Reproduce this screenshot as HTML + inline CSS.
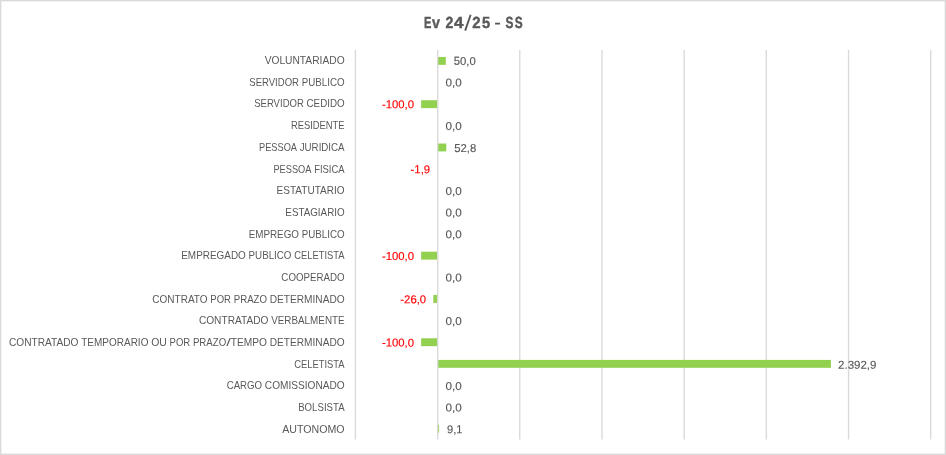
<!DOCTYPE html>
<html><head><meta charset="utf-8"><title>Ev 24/25 - SS</title>
<style>
html,body{margin:0;padding:0;background:#fff;}
body{width:946px;height:455px;overflow:hidden;font-family:"Liberation Sans",sans-serif;}
svg{display:block;will-change:transform;}
text{font-family:"Liberation Sans",sans-serif;}
.l{font-size:11px;fill:#595959;}
.v{font-size:11.5px;fill:#595959;stroke:#595959;stroke-width:0.15px;text-rendering:geometricPrecision;}
.n{font-size:11.5px;fill:#ff0000;stroke:#ff0000;stroke-width:0.15px;text-rendering:geometricPrecision;}
.t{font-size:15.0px;font-weight:bold;fill:#595959;stroke:#595959;stroke-width:0.4px;text-rendering:geometricPrecision;}
</style></head><body>
<svg width="946" height="455" viewBox="0 0 946 455">
<rect x="0" y="0" width="946" height="455" fill="#ffffff"/>
<rect x="0.67" y="0.67" width="944.66" height="453.66" fill="none" stroke="#d9d9d9" stroke-width="1.34"/>

<text class="t" transform="translate(424.06,28.00) scale(0.7367,1.0756)" x="0" y="0">E</text>
<text class="t" transform="translate(432.04,28.00) scale(0.9492,1.0726)" x="0" y="0">v</text>
<text class="t" transform="translate(445.61,28.00) scale(0.9416,1.0694)" x="0" y="0">2</text>
<text class="t" transform="translate(454.04,28.00) scale(1.1326,1.0756)" x="0" y="0">4</text>
<text class="t" transform="translate(472.28,28.00) scale(0.9970,1.0694)" x="0" y="0">2</text>
<text class="t" transform="translate(482.05,27.94) scale(0.9781,1.0701)" x="0" y="0">5</text>
<text class="t" transform="translate(505.46,27.99) scale(0.7900,1.0734)" x="0" y="0">S</text>
<text class="t" transform="translate(514.66,27.99) scale(0.7900,1.0734)" x="0" y="0">S</text>
<line x1="465.15" y1="30.6" x2="470.65" y2="14.8" stroke="#595959" stroke-width="1.9"/>
<rect x="495.05" y="22.7" width="5.0" height="1.8" fill="#595959"/>
<line x1="355.40" y1="50.0" x2="355.40" y2="439.5" stroke="#d9d9d9" stroke-width="1.35"/>
<line x1="519.78" y1="50.0" x2="519.78" y2="439.5" stroke="#d9d9d9" stroke-width="1.35"/>
<line x1="601.97" y1="50.0" x2="601.97" y2="439.5" stroke="#d9d9d9" stroke-width="1.35"/>
<line x1="684.15" y1="50.0" x2="684.15" y2="439.5" stroke="#d9d9d9" stroke-width="1.35"/>
<line x1="766.34" y1="50.0" x2="766.34" y2="439.5" stroke="#d9d9d9" stroke-width="1.35"/>
<line x1="848.53" y1="50.0" x2="848.53" y2="439.5" stroke="#d9d9d9" stroke-width="1.35"/>
<line x1="930.72" y1="50.0" x2="930.72" y2="439.5" stroke="#d9d9d9" stroke-width="1.35"/>
<rect x="437.99" y="56.95" width="7.82" height="7.9" fill="#92d050"/>
<rect x="421.15" y="100.23" width="16.44" height="7.9" fill="#92d050"/>
<rect x="437.99" y="143.51" width="8.28" height="7.9" fill="#92d050"/>
<rect x="437.28" y="165.15" width="0.31" height="7.9" fill="#92d050"/>
<rect x="421.15" y="251.71" width="16.44" height="7.9" fill="#92d050"/>
<rect x="433.31" y="294.99" width="4.27" height="7.9" fill="#92d050"/>
<rect x="421.15" y="338.27" width="16.44" height="7.9" fill="#92d050"/>
<rect x="437.99" y="359.91" width="392.94" height="7.9" fill="#92d050"/>
<rect x="437.99" y="424.83" width="1.10" height="7.9" fill="#92d050"/>
<line x1="437.71" y1="50.0" x2="437.71" y2="439.5" stroke="#d9d9d9" stroke-width="1.35"/>
<text class="l" x="264.63" y="64.00" textLength="79.97" lengthAdjust="spacingAndGlyphs">VOLUNTARIADO</text>
<text class="v" transform="rotate(0.1 464.8 64.9)" x="453.81" y="64.90" textLength="21.98" lengthAdjust="spacingAndGlyphs">50,0</text>
<text class="l" x="249.34" y="86.00" textLength="49.64" lengthAdjust="spacingAndGlyphs">SERVIDOR</text>
<text class="l" x="301.70" y="86.00" textLength="42.90" lengthAdjust="spacingAndGlyphs">PUBLICO</text>
<text class="v" transform="rotate(0.1 453.7 86.6)" x="445.59" y="86.57" textLength="16.16" lengthAdjust="spacingAndGlyphs">0,0</text>
<text class="l" x="254.20" y="107.00" textLength="49.64" lengthAdjust="spacingAndGlyphs">SERVIDOR</text>
<text class="l" x="306.55" y="107.00" textLength="38.05" lengthAdjust="spacingAndGlyphs">CEDIDO</text>
<text class="n" transform="rotate(0.1 397.9 108.2)" x="381.93" y="108.24" textLength="32.02" lengthAdjust="spacingAndGlyphs">-100,0</text>
<text class="l" x="290.91" y="129.00" textLength="53.69" lengthAdjust="spacingAndGlyphs">RESIDENTE</text>
<text class="v" transform="rotate(0.1 453.7 129.9)" x="445.59" y="129.91" textLength="16.16" lengthAdjust="spacingAndGlyphs">0,0</text>
<text class="l" x="258.97" y="151.00" textLength="38.03" lengthAdjust="spacingAndGlyphs">PESSOA</text>
<text class="l" x="299.72" y="151.00" textLength="44.88" lengthAdjust="spacingAndGlyphs">JURIDICA</text>
<text class="v" transform="rotate(0.1 465.3 152.1)" x="454.27" y="152.08" textLength="21.98" lengthAdjust="spacingAndGlyphs">52,8</text>
<text class="l" x="273.39" y="173.00" textLength="38.03" lengthAdjust="spacingAndGlyphs">PESSOA</text>
<text class="l" x="314.14" y="173.00" textLength="30.46" lengthAdjust="spacingAndGlyphs">FISICA</text>
<text class="n" transform="rotate(0.1 420.3 173.2)" x="410.62" y="173.25" textLength="19.46" lengthAdjust="spacingAndGlyphs">-1,9</text>
<text class="l" x="276.51" y="194.00" textLength="68.09" lengthAdjust="spacingAndGlyphs">ESTATUTARIO</text>
<text class="v" transform="rotate(0.1 453.7 194.9)" x="445.59" y="194.92" textLength="16.16" lengthAdjust="spacingAndGlyphs">0,0</text>
<text class="l" x="285.33" y="216.00" textLength="59.27" lengthAdjust="spacingAndGlyphs">ESTAGIARIO</text>
<text class="v" transform="rotate(0.1 453.7 216.6)" x="445.59" y="216.59" textLength="16.16" lengthAdjust="spacingAndGlyphs">0,0</text>
<text class="l" x="248.70" y="238.00" textLength="50.28" lengthAdjust="spacingAndGlyphs">EMPREGO</text>
<text class="l" x="301.70" y="238.00" textLength="42.90" lengthAdjust="spacingAndGlyphs">PUBLICO</text>
<text class="v" transform="rotate(0.1 453.7 238.3)" x="445.59" y="238.26" textLength="16.16" lengthAdjust="spacingAndGlyphs">0,0</text>
<text class="l" x="181.22" y="259.00" textLength="64.63" lengthAdjust="spacingAndGlyphs">EMPREGADO</text>
<text class="l" x="248.57" y="259.00" textLength="42.90" lengthAdjust="spacingAndGlyphs">PUBLICO</text>
<text class="l" x="294.19" y="259.00" textLength="50.41" lengthAdjust="spacingAndGlyphs">CELETISTA</text>
<text class="n" transform="rotate(0.1 397.9 259.9)" x="381.93" y="259.93" textLength="32.02" lengthAdjust="spacingAndGlyphs">-100,0</text>
<text class="l" x="281.37" y="281.00" textLength="63.23" lengthAdjust="spacingAndGlyphs">COOPERADO</text>
<text class="v" transform="rotate(0.1 453.7 281.6)" x="445.59" y="281.60" textLength="16.16" lengthAdjust="spacingAndGlyphs">0,0</text>
<text class="l" x="152.34" y="303.00" textLength="55.27" lengthAdjust="spacingAndGlyphs">CONTRATO</text>
<text class="l" x="210.32" y="303.00" textLength="20.69" lengthAdjust="spacingAndGlyphs">POR</text>
<text class="l" x="233.73" y="303.00" textLength="33.27" lengthAdjust="spacingAndGlyphs">PRAZO</text>
<text class="l" x="269.72" y="303.00" textLength="74.88" lengthAdjust="spacingAndGlyphs">DETERMINADO</text>
<text class="n" transform="rotate(0.1 413.2 303.3)" x="400.37" y="303.27" textLength="25.74" lengthAdjust="spacingAndGlyphs">-26,0</text>
<text class="l" x="198.88" y="324.00" textLength="69.62" lengthAdjust="spacingAndGlyphs">CONTRATADO</text>
<text class="l" x="271.22" y="324.00" textLength="73.38" lengthAdjust="spacingAndGlyphs">VERBALMENTE</text>
<text class="v" transform="rotate(0.1 453.7 324.9)" x="445.59" y="324.94" textLength="16.16" lengthAdjust="spacingAndGlyphs">0,0</text>
<text class="l" x="8.92" y="346.00" textLength="69.62" lengthAdjust="spacingAndGlyphs">CONTRATADO</text>
<text class="l" x="81.26" y="346.00" textLength="67.16" lengthAdjust="spacingAndGlyphs">TEMPORARIO</text>
<text class="l" x="151.13" y="346.00" textLength="15.67" lengthAdjust="spacingAndGlyphs">OU</text>
<text class="l" x="169.52" y="346.00" textLength="20.69" lengthAdjust="spacingAndGlyphs">POR</text>
<text class="l" x="192.93" y="346.00" textLength="33.27" lengthAdjust="spacingAndGlyphs">PRAZO</text>
<text class="l" x="226.20" y="346.00" textLength="4.64" lengthAdjust="spacingAndGlyphs">/</text>
<text class="l" x="230.84" y="346.00" textLength="36.17" lengthAdjust="spacingAndGlyphs">TEMPO</text>
<text class="l" x="269.72" y="346.00" textLength="74.88" lengthAdjust="spacingAndGlyphs">DETERMINADO</text>
<text class="n" transform="rotate(0.1 397.9 346.6)" x="381.93" y="346.61" textLength="32.02" lengthAdjust="spacingAndGlyphs">-100,0</text>
<text class="l" x="294.19" y="368.00" textLength="50.41" lengthAdjust="spacingAndGlyphs">CELETISTA</text>
<text class="v" transform="rotate(0.1 857.3 368.8)" x="838.08" y="368.78" textLength="38.37" lengthAdjust="spacingAndGlyphs">2.392,9</text>
<text class="l" x="226.70" y="389.00" textLength="35.43" lengthAdjust="spacingAndGlyphs">CARGO</text>
<text class="l" x="264.84" y="389.00" textLength="79.76" lengthAdjust="spacingAndGlyphs">COMISSIONADO</text>
<text class="v" transform="rotate(0.1 453.7 390.0)" x="445.59" y="389.95" textLength="16.16" lengthAdjust="spacingAndGlyphs">0,0</text>
<text class="l" x="298.17" y="411.00" textLength="46.43" lengthAdjust="spacingAndGlyphs">BOLSISTA</text>
<text class="v" transform="rotate(0.1 453.7 411.6)" x="445.59" y="411.62" textLength="16.16" lengthAdjust="spacingAndGlyphs">0,0</text>
<text class="l" x="282.17" y="433.00" textLength="62.43" lengthAdjust="spacingAndGlyphs">AUTONOMO</text>
<text class="v" transform="rotate(0.1 454.8 433.3)" x="447.08" y="433.29" textLength="15.38" lengthAdjust="spacingAndGlyphs">9,1</text>
</svg>
</body></html>
